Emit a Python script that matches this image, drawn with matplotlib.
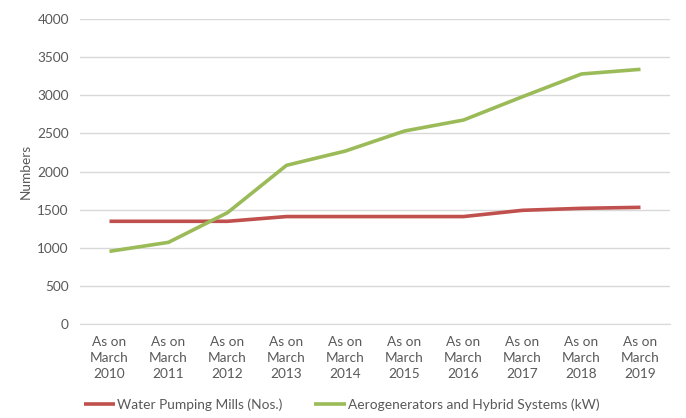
import matplotlib
matplotlib.use("Agg")
import matplotlib.pyplot as plt
import numpy as np

plt.rcParams["font.family"] = ["Lato", "DejaVu Sans"]

years = ["2010", "2011", "2012", "2013", "2014", "2015", "2016", "2017", "2018", "2019"]
labels = [f"As on\nMarch\n{y}" for y in years]
water_pumping = [1347, 1347, 1347, 1409, 1409, 1409, 1409, 1491, 1517, 1530]
aerogenerators = [953, 1071, 1460, 2081, 2269, 2531, 2675, 2981, 3279, 3340]

text_col = "#595959"

fig = plt.figure(figsize=(6.86, 4.18), dpi=100)
ax = fig.add_axes([80 / 686, 1 - 324 / 418, 590 / 686, 305 / 418])

x = np.arange(len(years))
ax.plot(x, water_pumping, color="#C0504D", lw=2.6, label="Water Pumping Mills (Nos.)",
        solid_capstyle="butt")
ax.plot(x, aerogenerators, color="#9BBB59", lw=2.6, label="Aerogenerators and Hybrid Systems (kW)",
        solid_capstyle="butt")

ax.set_xlim(-0.5, len(years) - 0.5)
ax.set_ylim(0, 4000)
ax.set_yticks(range(0, 4001, 500))
ax.set_xticks(x)
ax.set_xticklabels(labels, linespacing=1.4)
ax.tick_params(axis="both", length=0, colors=text_col, labelsize=9.8)
ax.tick_params(axis="x", pad=9)
ax.tick_params(axis="y", pad=8)
ax.grid(axis="y", color="#D9D9D9", lw=1)
ax.set_axisbelow(True)
for s in ["top", "right", "left"]:
    ax.spines[s].set_visible(False)
ax.spines["bottom"].set_color("#D9D9D9")
ax.set_ylabel("Numbers", color=text_col, fontsize=9.8, labelpad=4)

fig.legend(loc="lower center", bbox_to_anchor=(0.498, -0.012), ncol=2, frameon=False,
           prop={"size": 9.9}, labelcolor=text_col, handlelength=2.3, handletextpad=0.15,
           columnspacing=2.3)

fig.savefig("out.png", dpi=100)
